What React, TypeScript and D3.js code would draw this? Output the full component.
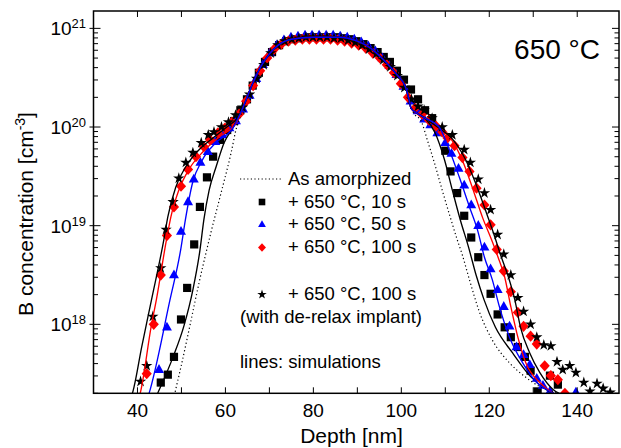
import React from 'react';
import * as d3 from 'd3';

type P = [number, number];

const W = 621;
const H = 448;
const PLOT = { left: 93.5, right: 619, top: 11, bottom: 393.3 };

const depthDomain: [number, number] = [30, 149.5];
const concDomain: [number, number] = [2e17, 1.5e21];
const xTickLabels = [40, 60, 80, 100, 120, 140];
const yTickExponents = [18, 19, 20, 21];
const tempLabel = '650 °C';
const xTitle = 'Depth [nm]';
const legendLabels = [
  'As amorphized',
  '+ 650 °C, 10 s',
  '+ 650 °C, 50 s',
  '+ 650 °C, 100 s',
  '+ 650 °C, 100 s',
  '(with de-relax implant)',
  'lines: simulations',
];

// ---- SIMS data (markers) ----
const squares10s: P[] = [
  [45.3, 2.57e17], [46.9, 3.09e17], [48.3, 4.68e17], [49.9, 1.12e18], [51.3, 2.34e18], [52.9, 6.46e18],
  [54.2, 1.55e19], [55.8, 3.09e19], [57.2, 5.01e19], [58.8, 7.41e19], [60.4, 9.33e19], [62.0, 1.15e20],
  [63.4, 1.48e20], [64.9, 1.91e20], [66.2, 2.63e20], [67.6, 3.55e20], [69.0, 4.57e20], [70.6, 5.75e20],
  [72.2, 6.76e20], [73.8, 7.41e20], [75.4, 7.76e20], [77.0, 7.94e20], [78.6, 8.13e20], [80.2, 8.13e20],
  [81.8, 8.13e20], [83.4, 8.13e20], [85.0, 8.13e20], [86.6, 7.94e20], [88.2, 7.76e20], [89.8, 7.41e20],
  [91.4, 6.92e20], [93.0, 6.31e20], [94.6, 5.75e20], [96.0, 5.13e20], [97.4, 4.57e20], [99.0, 3.72e20],
  [100.6, 3.02e20], [102.2, 2.40e20], [103.8, 1.91e20], [105.4, 1.48e20], [107.0, 1.23e20], [108.4, 8.91e19],
  [110.0, 5.75e19], [111.2, 3.55e19], [112.7, 2.14e19], [114.3, 1.26e19], [115.9, 7.59e18], [117.5, 4.79e18],
  [118.9, 3.16e18], [120.3, 2.04e18], [121.9, 1.26e18], [123.5, 9.33e17], [124.9, 7.41e17], [126.5, 5.89e17],
  [128.1, 4.68e17], [129.4, 3.39e17], [131.0, 2.09e17], [133.8, 3.02e17], [135.6, 2.45e17],
];

const triangles50s: P[] = [
  [44.9, 3.47e17], [46.7, 9.33e17], [48.3, 3.16e18], [49.9, 8.71e18], [51.5, 1.74e19], [52.8, 2.95e19],
  [54.3, 4.37e19], [56.0, 5.62e19], [57.7, 7.08e19], [59.3, 8.32e19], [60.9, 9.77e19], [62.4, 1.15e20],
  [64.0, 1.51e20], [65.5, 2.09e20], [67.0, 3.09e20], [68.5, 4.27e20], [70.1, 5.62e20], [71.7, 6.76e20],
  [73.3, 7.59e20], [74.9, 8.13e20], [76.5, 8.32e20], [78.1, 8.51e20], [79.7, 8.51e20], [81.3, 8.51e20],
  [82.9, 8.51e20], [84.5, 8.51e20], [86.1, 8.32e20], [87.7, 8.13e20], [89.3, 7.76e20], [90.9, 7.24e20],
  [92.5, 6.61e20], [94.1, 5.89e20], [95.7, 5.01e20], [97.3, 4.17e20], [98.9, 3.39e20], [100.5, 2.57e20],
  [102.1, 1.82e20], [103.7, 1.45e20], [105.2, 1.20e20], [106.6, 1.05e20], [108.2, 8.71e19], [110.0, 6.92e19],
  [111.4, 5.37e19], [113.0, 3.80e19], [114.3, 2.57e19], [115.9, 1.62e19], [117.5, 1.00e19], [118.9, 6.03e18],
  [120.3, 3.63e18], [121.9, 2.24e18], [123.3, 1.51e18], [124.6, 9.55e17], [126.2, 5.89e17], [127.8, 4.90e17],
  [129.2, 3.89e17], [130.8, 2.82e17], [132.2, 2.40e17], [133.8, 2.09e17], [139.7, 2.04e17],
];

const diamonds100s: P[] = [
  [42.1, 3.16e17], [43.7, 1.00e18], [45.3, 3.16e18], [46.7, 7.94e18], [48.3, 1.55e19], [49.9, 2.51e19],
  [51.5, 3.72e19], [53.3, 5.01e19], [55.1, 6.31e19], [56.5, 7.41e19], [58.3, 8.71e19], [59.9, 9.77e19],
  [61.5, 1.12e20], [63.1, 1.35e20], [64.7, 1.82e20], [66.3, 2.63e20], [67.9, 3.72e20], [69.5, 5.01e20],
  [71.1, 6.17e20], [72.7, 6.92e20], [74.3, 7.41e20], [75.9, 7.59e20], [77.5, 7.76e20], [79.1, 7.76e20],
  [80.7, 7.76e20], [82.3, 7.76e20], [83.9, 7.76e20], [85.5, 7.59e20], [87.1, 7.41e20], [88.7, 7.08e20],
  [90.3, 6.76e20], [91.9, 6.31e20], [93.5, 5.62e20], [95.1, 5.01e20], [96.7, 4.27e20], [98.3, 3.55e20],
  [99.9, 2.75e20], [101.5, 2.00e20], [103.1, 1.55e20], [104.7, 1.35e20], [106.3, 1.17e20], [107.9, 1.02e20],
  [109.3, 8.91e19], [110.5, 7.76e19], [112.1, 6.46e19], [113.9, 4.90e19], [115.5, 3.55e19], [117.1, 2.40e19],
  [118.9, 1.62e19], [120.3, 1.02e19], [121.7, 5.75e18], [123.3, 3.47e18], [124.9, 2.14e18], [126.5, 1.32e18],
  [127.8, 9.55e17], [129.4, 7.59e17], [130.8, 6.31e17], [132.6, 3.80e17], [134.0, 3.02e17], [135.6, 2.75e17],
  [137.2, 2.00e17],
];

const stars100sDerelax: P[] = [
  [40.7, 2.63e17], [42.1, 3.80e17], [43.5, 1.20e18], [45.3, 3.72e18], [46.5, 9.12e18], [48.1, 1.74e19],
  [49.4, 3.02e19], [51.0, 4.37e19], [52.6, 5.50e19], [54.5, 6.92e19], [56.1, 8.32e19], [57.4, 8.91e19],
  [59.1, 1.00e20], [60.7, 1.12e20], [62.3, 1.32e20], [63.9, 1.58e20], [65.5, 2.14e20], [67.1, 3.09e20],
  [68.7, 4.27e20], [70.3, 5.62e20], [71.9, 6.76e20], [73.5, 7.41e20], [75.1, 7.76e20], [76.7, 7.94e20],
  [78.3, 8.13e20], [79.9, 8.13e20], [81.5, 8.13e20], [83.1, 8.13e20], [84.7, 7.94e20], [86.3, 7.94e20],
  [87.9, 7.59e20], [89.5, 7.24e20], [91.1, 6.76e20], [92.7, 6.17e20], [94.3, 5.50e20], [95.9, 4.79e20],
  [97.5, 4.07e20], [99.1, 3.31e20], [100.7, 2.51e20], [102.3, 1.91e20], [103.8, 1.62e20], [105.2, 1.48e20],
  [107.0, 1.23e20], [109.3, 1.00e20], [111.6, 8.32e19], [114.3, 5.89e19], [115.7, 4.37e19], [117.5, 2.95e19],
  [118.9, 2.14e19], [120.3, 1.45e19], [121.9, 8.13e18], [123.3, 5.13e18], [124.9, 3.16e18], [126.5, 1.86e18],
  [127.8, 1.35e18], [129.4, 1.00e18], [130.8, 7.41e17], [132.4, 6.17e17], [134.0, 6.03e17], [135.4, 4.17e17],
  [136.7, 3.47e17], [138.3, 3.80e17], [139.7, 3.24e17], [141.5, 2.57e17], [142.9, 2.09e17], [144.5, 2.51e17],
  [145.9, 2.24e17], [147.5, 2.04e17],
];

// ---- simulations (lines) ----
const simPeak: P[] = [
  [64.0, 1.58e20], [66.0, 2.63e20], [68.0, 4.07e20], [70.0, 5.50e20], [72.0, 6.76e20], [75.0, 7.76e20],
  [80.0, 8.13e20], [86.0, 8.13e20], [90.0, 7.41e20], [93.0, 6.31e20], [96.0, 4.79e20], [99.0, 3.39e20],
  [100.9, 2.57e20], [101.8, 1.86e20], [102.2, 1.55e20], [103.6, 1.38e20], [105.4, 1.23e20],
];

const sim10sLeft: P[] = [
  [44.2, 1.82e17], [44.6, 2.00e17], [48.1, 4.68e17], [50.6, 9.77e17], [52.6, 2.24e18], [54.2, 5.62e18],
  [55.1, 1.15e19], [56.3, 2.29e19], [57.9, 3.98e19], [59.7, 6.92e19], [61.8, 1.00e20],
];
const sim10sRight: P[] = [
  [107.7, 8.71e19], [109.8, 4.68e19], [111.6, 2.29e19], [113.4, 1.15e19], [115.3, 6.03e18], [117.0, 3.16e18],
  [118.8, 1.78e18], [121.4, 9.33e17], [125.3, 5.13e17], [129.4, 2.95e17], [132.9, 2.19e17], [135.3, 1.91e17],
  [136.5, 1.78e17],
];

const sim50sLeft: P[] = [
  [42.2, 1.74e17], [42.5, 1.91e17], [47.4, 1.78e18], [49.8, 5.62e18], [50.9, 1.15e19], [52.5, 2.69e19],
  [54.8, 4.68e19], [57.8, 6.92e19], [61.7, 9.77e19],
];
const sim50sRight: P[] = [
  [108.6, 1.00e20], [110.9, 5.89e19], [113.2, 3.09e19], [115.5, 1.55e19], [117.3, 9.12e18], [118.9, 4.79e18],
  [120.7, 2.82e18], [122.3, 1.51e18], [124.6, 7.41e17], [127.6, 4.07e17], [130.6, 2.63e17], [134.5, 2.00e17],
  [136.0, 1.82e17],
];

const sim100sLeft: P[] = [
  [40.2, 1.74e17], [40.5, 1.91e17], [43.2, 1.00e18], [44.3, 1.78e18], [46.6, 7.24e18], [47.6, 1.23e19],
  [49.4, 2.29e19], [51.7, 3.72e19], [54.9, 5.62e19], [58.6, 7.94e19], [62.5, 1.10e20],
];
const sim100sRight: P[] = [
  [108.0, 1.02e20], [111.6, 7.24e19], [113.9, 4.57e19], [116.2, 2.40e19], [118.5, 1.20e19], [120.5, 7.24e18],
  [122.0, 4.79e18], [123.5, 3.02e18], [124.9, 1.51e18], [126.5, 7.41e17], [128.3, 4.07e17], [131.5, 2.57e17],
  [134.5, 2.00e17], [136.2, 1.82e17],
];

const simDerelaxLeft: P[] = [
  [38.4, 1.78e17], [38.7, 1.91e17], [41.0, 6.03e17], [43.2, 1.78e18], [46.0, 7.24e18], [46.9, 1.23e19],
  [48.7, 2.45e19], [51.0, 3.98e19], [54.0, 5.89e19], [57.2, 7.76e19], [60.9, 1.05e20], [62.5, 1.20e20],
];
const simDerelaxRight: P[] = [
  [108.2, 1.00e20], [111.6, 7.59e19], [114.6, 4.68e19], [116.9, 2.69e19], [119.1, 1.45e19], [121.0, 8.32e18],
  [122.6, 5.01e18], [124.2, 3.16e18], [125.8, 1.78e18], [127.1, 9.33e17], [129.2, 5.13e17], [131.5, 3.24e17],
  [134.5, 2.19e17], [136.7, 1.91e17], [137.5, 1.82e17],
];

const asAmorphized: P[] = [
  [48.2, 1.74e17], [48.7, 2.19e17], [49.9, 3.72e17], [51.7, 8.71e17], [54.0, 2.63e18], [56.7, 8.51e18],
  [59.0, 2.14e19], [61.3, 5.50e19], [62.5, 9.77e19], [63.6, 1.35e20], [64.7, 1.86e20], [65.6, 2.40e20],
  [66.5, 2.95e20], [68.0, 4.07e20], [70.0, 5.50e20], [72.0, 6.76e20], [75.0, 7.76e20], [80.0, 8.13e20],
  [86.0, 8.13e20], [90.0, 7.41e20], [93.0, 6.31e20], [96.0, 4.79e20], [99.0, 3.39e20], [100.9, 2.57e20],
  [101.8, 1.86e20], [102.5, 1.48e20], [104.7, 1.10e20], [105.9, 7.41e19], [107.5, 4.37e19], [109.3, 2.29e19],
  [111.1, 1.23e19], [112.7, 7.24e18], [113.9, 5.01e18], [115.5, 2.82e18], [117.8, 1.32e18], [120.7, 6.92e17],
  [124.6, 4.07e17], [128.1, 2.95e17], [131.5, 2.34e17], [134.5, 2.09e17], [136.5, 1.91e17], [138.0, 1.78e17],
];

const FONT = '"Liberation Sans", Arial, Helvetica, sans-serif';
const BLUE = '#0000ff';
const RED = '#ff0000';

const x = d3.scaleLinear().domain(depthDomain).range([PLOT.left, PLOT.right]);
const y = d3.scaleLog().domain(concDomain).range([PLOT.bottom, PLOT.top]);

const line = d3
  .line<P>()
  .x((d) => x(d[0]))
  .y((d) => y(d[1]))
  .curve(d3.curveMonotoneX);

const triPath = 'M0,-5.6L5,3.2L-5,3.2Z';
const diaPath = 'M0,-5.6L5.1,0L0,5.6L-5.1,0Z';
const starPath = d3.symbol(d3.symbolStar, 40)() as string;
const starSmall = d3.symbol(d3.symbolStar, 28)() as string;

function Marker({ kind, cx, cy, small }: { kind: string; cx: number; cy: number; small?: boolean }) {
  const s = small ? 0.78 : 1;
  if (kind === 'square') {
    const a = small ? 6.6 : 8.2;
    return <rect x={cx - a / 2} y={cy - a / 2} width={a} height={a} fill="#000" />;
  }
  if (kind === 'triangle')
    return <path d={triPath} transform={`translate(${cx},${cy}) scale(${s})`} fill={BLUE} />;
  if (kind === 'diamond')
    return <path d={diaPath} transform={`translate(${cx},${cy}) scale(${s})`} fill={RED} />;
  return <path d={small ? starSmall : starPath} transform={`translate(${cx},${cy})`} fill="#000" />;
}

export default function App() {
  const xMinor = x.ticks(12);
  const yMinor: number[] = [];
  for (let e = 17; e <= 21; e++) {
    for (let k = 1; k <= 9; k++) {
      const v = k * Math.pow(10, e);
      if (v >= concDomain[0] && v <= concDomain[1]) yMinor.push(v);
    }
  }
  const isMajor = (v: number) => Math.abs(Math.log10(v) - Math.round(Math.log10(v))) < 1e-9;

  const series: { kind: string; data: P[] }[] = [
    { kind: 'square', data: squares10s },
    { kind: 'triangle', data: triangles50s },
    { kind: 'diamond', data: diamonds100s },
    { kind: 'star', data: stars100sDerelax },
  ];

  const sims: { data: P[]; color: string }[] = [
    { data: [...sim10sLeft, ...simPeak, ...sim10sRight], color: '#000' },
    { data: [...sim100sLeft, ...simPeak, ...sim100sRight], color: RED },
    { data: [...simDerelaxLeft, ...simPeak, ...simDerelaxRight], color: '#000' },
    { data: [...sim50sLeft, ...simPeak, ...sim50sRight], color: BLUE },
  ];

  const legX = 262;
  const legTextX = 288;
  const legRows = [185, 207.5, 230, 253, 300, 323, 368];

  return (
    <svg
      width={W}
      height={H}
      viewBox={`0 0 ${W} ${H}`}
      style={{ position: 'absolute', left: 0, top: 0, background: '#fff' }}
      fontFamily={FONT}
    >
      <defs>
        <clipPath id="plotClip">
          <rect x={PLOT.left} y={PLOT.top} width={PLOT.right - PLOT.left} height={PLOT.bottom - PLOT.top} />
        </clipPath>
      </defs>
      <rect x={0} y={0} width={W} height={H} fill="#fff" />

      <g clipPath="url(#plotClip)">
        {series.map((s) => (
          <g key={s.kind}>
            {s.data.map((d, i) => (
              <Marker key={i} kind={s.kind} cx={x(d[0])} cy={y(d[1])} />
            ))}
          </g>
        ))}
        <path d={line(asAmorphized) || ''} fill="none" stroke="#000" strokeWidth={1.2} strokeDasharray="1.2,2.6" />
        {sims.map((s, i) => (
          <path key={i} d={line(s.data) || ''} fill="none" stroke={s.color} strokeWidth={1.35} />
        ))}
      </g>

      {/* x ticks top & bottom */}
      {xMinor.map((t) => (
        <g key={t} stroke="#000" strokeWidth={1}>
          <line x1={x(t)} x2={x(t)} y1={PLOT.bottom} y2={PLOT.bottom - 6} />
          <line x1={x(t)} x2={x(t)} y1={PLOT.top} y2={PLOT.top + 6} />
        </g>
      ))}
      {/* y ticks left & right */}
      {yMinor.map((v) => {
        const major = isMajor(v);
        const len = major ? 7 : 4.5;
        return (
          <g key={v} stroke="#000" strokeWidth={1}>
            <line x1={PLOT.left - (major ? 4 : 0)} x2={PLOT.left + len} y1={y(v)} y2={y(v)} />
            <line x1={PLOT.right - len} x2={PLOT.right} y1={y(v)} y2={y(v)} />
          </g>
        );
      })}

      <rect
        x={PLOT.left}
        y={PLOT.top}
        width={PLOT.right - PLOT.left}
        height={PLOT.bottom - PLOT.top}
        fill="none"
        stroke="#000"
        strokeWidth={1.5}
      />

      {xTickLabels.map((t) => (
        <text key={t} x={x(t)} y={416.7} fontSize={19} textAnchor="middle" fill="#000">
          {t}
        </text>
      ))}
      {yTickExponents.map((e) => (
        <text key={e} x={86} y={y(Math.pow(10, e)) + 7} fontSize={19} textAnchor="end" fill="#000">
          10
          <tspan dy={-7} fontSize={13}>
            {e}
          </tspan>
        </text>
      ))}

      <text x={351.5} y={442.5} fontSize={21} textAnchor="middle" fill="#000">
        {xTitle}
      </text>
      <text transform="translate(33,214) rotate(-90)" fontSize={21} textAnchor="middle" fill="#000">
        B concentration [cm
        <tspan dy={-8} fontSize={14}>
          -3
        </tspan>
        <tspan dy={8}>]</tspan>
      </text>

      <text x={600} y={59} fontSize={28} textAnchor="end" fill="#000">
        {tempLabel}
      </text>

      {/* legend */}
      <line x1={240} x2={283} y1={legRows[0] - 6} y2={legRows[0] - 6} stroke="#000" strokeWidth={1.1} strokeDasharray="1.2,2.4" />
      <Marker kind="square" cx={legX} cy={legRows[1] - 5.5} small />
      <Marker kind="triangle" cx={legX} cy={legRows[2] - 5.5} small />
      <Marker kind="diamond" cx={legX} cy={legRows[3] - 5.5} small />
      <Marker kind="star" cx={legX} cy={legRows[4] - 5.5} small />
      {legendLabels.map((t, i) => (
        <text
          key={i}
          x={i === 5 || i === 6 ? 240 : legTextX}
          y={legRows[i]}
          fontSize={18.5}
          fill="#000"
        >
          {t}
        </text>
      ))}
    </svg>
  );
}
